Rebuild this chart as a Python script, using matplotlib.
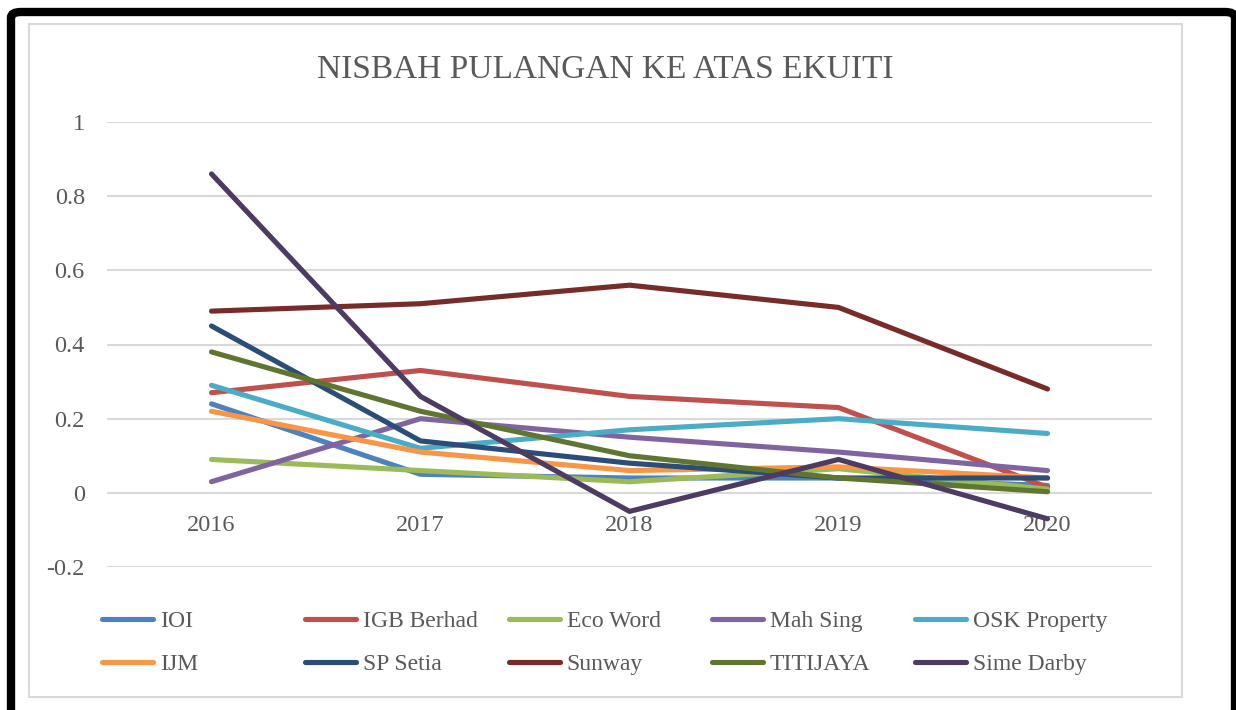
import matplotlib.pyplot as plt
from matplotlib.patches import FancyBboxPatch, Rectangle
from matplotlib.lines import Line2D

# data
years = ['2016', '2017', '2018', '2019', '2020']
companies = ['IOI', 'IGB Berhad', 'Eco Word', 'Mah Sing', 'OSK Property',
             'IJM', 'SP Setia', 'Sunway', 'TITIJAYA', 'Sime Darby']
ioi = [0.24, 0.05, 0.04, 0.04, 0.02]
igb = [0.27, 0.33, 0.26, 0.23, 0.015]
eco_word = [0.09, 0.06, 0.03, 0.065, 0.01]
mah_sing = [0.03, 0.20, 0.15, 0.11, 0.06]
osk = [0.29, 0.12, 0.17, 0.20, 0.16]
ijm = [0.22, 0.11, 0.06, 0.07, 0.04]
sp_setia = [0.45, 0.14, 0.08, 0.04, 0.04]
sunway = [0.49, 0.51, 0.56, 0.50, 0.28]
titijaya = [0.38, 0.22, 0.10, 0.04, 0.003]
sime_darby = [0.86, 0.26, -0.05, 0.09, -0.07]
series = [ioi, igb, eco_word, mah_sing, osk, ijm, sp_setia, sunway, titijaya, sime_darby]
colors = ['#4F81BD', '#C0504D', '#9BBB59', '#8064A2', '#4BACC6',
          '#F79646', '#2C4D75', '#772C2A', '#5F7530', '#4D3B62']

plt.rcParams['font.family'] = ['Liberation Serif', 'DejaVu Serif']
txt = '#595959'

fig = plt.figure(figsize=(12.36, 7.10), dpi=100)
W, H = 1236, 710

# outer black frame and inner gray chart border
fig.add_artist(FancyBboxPatch((11 / W, -0.05), (1224 / W), 1 - 12 / H + 0.05,
                              boxstyle='round,pad=0,rounding_size=0.008',
                              transform=fig.transFigure, fill=False,
                              edgecolor='black', linewidth=6))
fig.add_artist(Rectangle((29 / W, 1 - 697 / H), (1182 - 29) / W, (697 - 24) / H,
                         transform=fig.transFigure, fill=False,
                         edgecolor='#D9D9D9', linewidth=1.5))

ax = fig.add_axes([107 / W, 1 - 567 / H, (1152 - 107) / W, (567 - 122) / H])
x = list(range(len(years)))
for vals, c in zip(series, colors):
    ax.plot(x, vals, color=c, linewidth=3.7, solid_capstyle='round',
            solid_joinstyle='round', zorder=3)

ax.set_xlim(-0.5, len(years) - 0.5)
ax.set_ylim(-0.2, 1.0)
ax.set_yticks([-0.2, 0, 0.2, 0.4, 0.6, 0.8, 1])
ax.set_yticklabels(['-0.2', '0', '0.2', '0.4', '0.6', '0.8', '1'])
ax.set_xticks(x)
ax.set_xticklabels(years)
ax.yaxis.grid(True, color='#D9D9D9', linewidth=1.5)
ax.set_axisbelow(True)
for s in ax.spines.values():
    s.set_visible(False)
ax.spines['bottom'].set_position(('data', 0))
ax.tick_params(axis='both', length=0, labelsize=17.5, labelcolor=txt)
ax.tick_params(axis='y', pad=16)
ax.tick_params(axis='x', pad=16)

fig.text(605 / W, 1 - 70 / H, 'NISBAH PULANGAN KE ATAS EKUITI', ha='center',
         va='center', fontsize=24, color=txt)

# legend, two rows of five
for i, (name, c) in enumerate(zip(companies, colors)):
    col, row = i % 5, i // 5
    x0 = 102 + col * 203.3
    y0 = 1 - (619 + row * 43) / H
    fig.add_artist(Line2D([x0 / W, (x0 + 51) / W], [y0, y0], color=c,
                          linewidth=3.7, solid_capstyle='round',
                          transform=fig.transFigure))
    fig.text((x0 + 58) / W, y0, name, ha='left', va='center_baseline',
             fontsize=17, color=txt)

fig.savefig('out.png', dpi=100)
